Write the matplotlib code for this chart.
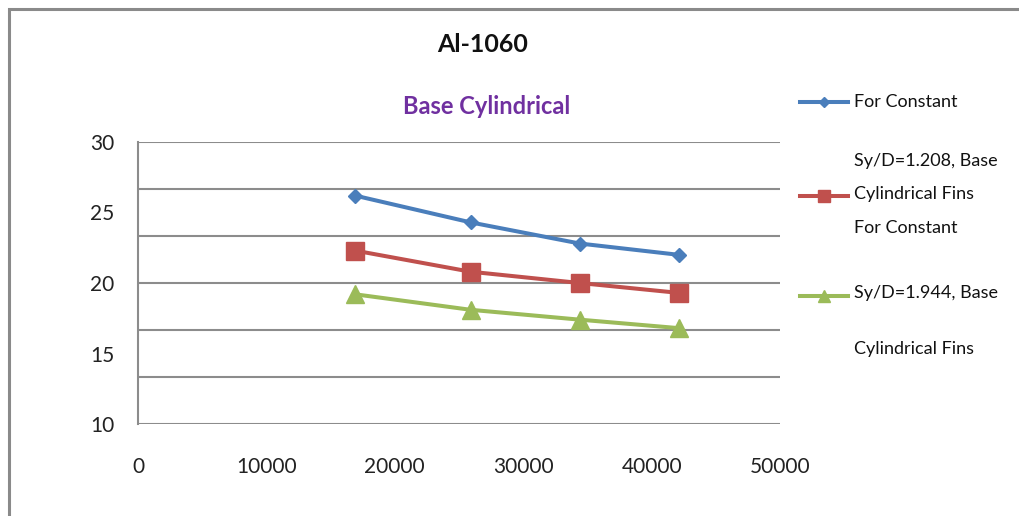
import numpy as np
import matplotlib.pyplot as plt
from matplotlib.lines import Line2D
from matplotlib.patches import Rectangle

plt.rcParams['font.family'] = ['Lato', 'DejaVu Sans']

# Reynolds number vs. value for each fin arrangement
re = [16900, 25900, 34400, 42100]
blue_vals = [26.2, 24.3, 22.8, 22.0]
red_vals = [22.3, 20.8, 20.0, 19.3]
green_vals = [19.2, 18.1, 17.4, 16.8]

series = [
    (blue_vals, '#4A7EBB', 'D', 7.6),
    (red_vals, '#C0504D', 's', 13.5),
    (green_vals, '#9BBB59', '^', 13),
]

xticks = [0, 10000, 20000, 30000, 40000, 50000]
yticks = [10, 15, 20, 25, 30]

W, H = 1019, 516
fig = plt.figure(figsize=(W / 100, H / 100), dpi=100)

def fx(px):
    return px / W

def fy(py):
    return 1 - py / H

ax = fig.add_axes([fx(138), fy(424), (780 - 138) / W, (424 - 142) / H])

# horizontal gridlines (7 evenly spaced rules, Excel style)
for gy in np.linspace(10, 30, 7):
    ax.axhline(gy, color='#8C8C8C', lw=1.5, zorder=1)

for vals, col, mk, ms in series:
    ax.plot(re, vals, color=col, lw=2.9, marker=mk, ms=ms,
            markerfacecolor=col, markeredgecolor=col, zorder=3, clip_on=False)

ax.set_xlim(0, 50000)
ax.set_ylim(10, 30)
ax.set_xticks(xticks)
ax.set_xticklabels([str(t) for t in xticks])
ax.set_yticks(yticks)
ax.tick_params(axis='both', which='both', length=0, labelsize=15, colors='#222222')
ax.tick_params(axis='x', pad=24)
ax.tick_params(axis='y', pad=17)
for s in ['top', 'right', 'bottom']:
    ax.spines[s].set_visible(False)
ax.spines['left'].set_color('#8C8C8C')
ax.spines['left'].set_linewidth(1.5)

# titles
fig.text(fx(483), fy(45), 'Al-1060', ha='center', va='center',
         fontsize=18, fontweight='bold', color='#111111')
fig.text(fx(487), fy(107), 'Base Cylindrical', ha='center', va='center',
         fontsize=17, fontweight='bold', color='#7030A0')

# legend drawn by hand, the labels wrap across rows
leg_y = [102, 196, 296]
leg_ms = [5.5, 9, 8]
for (vals, col, mk, ms), ly, lms in zip(series, leg_y, leg_ms):
    fig.add_artist(Line2D([fx(800), fx(848)], [fy(ly), fy(ly)], color=col, lw=2.9,
                          transform=fig.transFigure))
    fig.add_artist(Line2D([fx(824)], [fy(ly)], color=col, marker=mk, ms=lms,
                          transform=fig.transFigure))

leg_lines = [
    ('For Constant', 102),
    ('Sy/D=1.208, Base', 161),
    ('Cylindrical Fins', 194),
    ('For Constant', 228),
    ('Sy/D=1.944, Base', 293),
    ('Cylindrical Fins', 349),
]
for txt, ly in leg_lines:
    fig.text(fx(854), fy(ly), txt, ha='left', va='center', fontsize=13, color='#111111')

# outer chart border
fig.add_artist(Rectangle((fx(9), fy(600)), fx(1100), (600 - 9) / H, fill=False,
                         edgecolor='#8A8A8A', lw=2.2, transform=fig.transFigure))

fig.savefig('out.png', dpi=100)
